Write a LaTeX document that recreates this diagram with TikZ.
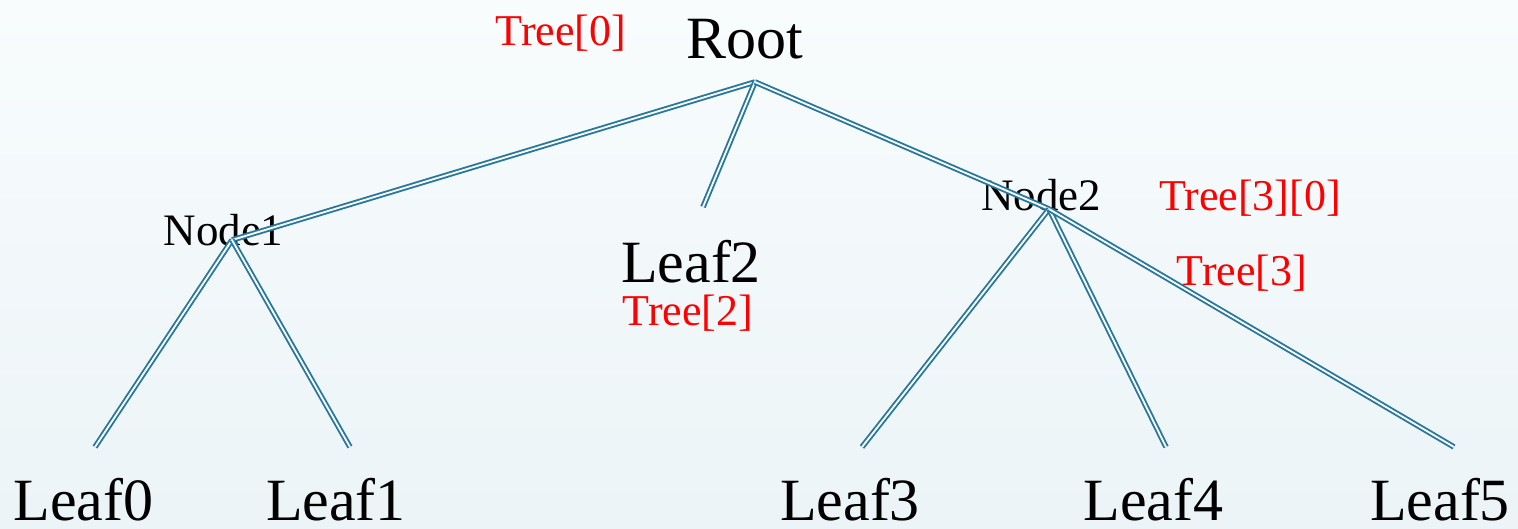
\documentclass[tikz,border=0pt]{standalone}
\usepackage{fontspec}
\setmainfont{Liberation Serif}
\definecolor{edgeblue}{RGB}{40,120,158}
\definecolor{bgtop}{RGB}{248,252,253}
\definecolor{bgbot}{RGB}{236,244,247}
\definecolor{labred}{RGB}{255,0,0}
\begin{document}
\begin{tikzpicture}[x=1pt,y=-1pt,
  big/.style={inner sep=0pt,anchor=base,font=\fontsize{60}{70}\selectfont},
  mid/.style={inner sep=0pt,anchor=base,font=\fontsize{45}{54}\selectfont},
  lab/.style={inner sep=0pt,anchor=base,text=labred,font=\fontsize{44}{52}\selectfont},
  edge/.style={draw=edgeblue,line width=1.9pt,double=white,double distance=1.8pt}]
\useasboundingbox (0,0) rectangle (1518,528);
\shade[top color=bgtop,bottom color=bgbot] (0,0) rectangle (1518,528);
% text nodes
\node[big] (root) at (744.5,58) {Root};
\node[lab] (t0) at (561,45) {Tree[0]};
\node[mid] (n1) at (223.5,245) {Node1};
\node[mid] (n2) at (1041,210) {Node2};
\node[big] (l2) at (691,282) {Leaf2};
\node[lab] (t2) at (688,325) {Tree[2]};
\node[lab] (t30) at (1250,210) {Tree[3][0]};
\node[lab] (t3) at (1242,285) {Tree[3]};
\node[big] (l0) at (83.5,520) {Leaf0};
\node[big] (l1) at (336,520) {Leaf1};
\node[big] (l3) at (850,520) {Leaf3};
\node[big] (l4) at (1153.5,520) {Leaf4};
\node[big] (l5) at (1440,520) {Leaf5};
% connector points
\coordinate (rootc) at (755,82);
\coordinate (n1c) at (232,240);
\coordinate (n2c) at (1049,209);
\coordinate (l2c) at (703,207);
\coordinate (l0c) at (95,447);
\coordinate (l1c) at (350,447);
\coordinate (l3c) at (862,447);
\coordinate (l4c) at (1166,447);
\coordinate (l5c) at (1454,447);
% connectors
\draw[edge] (rootc) -- (n1c);
\draw[edge] (rootc) -- (l2c);
\draw[edge] (rootc) -- (n2c);
\draw[edge] (n1c) -- (l0c);
\draw[edge] (n1c) -- (l1c);
\draw[edge] (n2c) -- (l3c);
\draw[edge] (n2c) -- (l4c);
\draw[edge] (n2c) -- (l5c);
\end{tikzpicture}
\end{document}
